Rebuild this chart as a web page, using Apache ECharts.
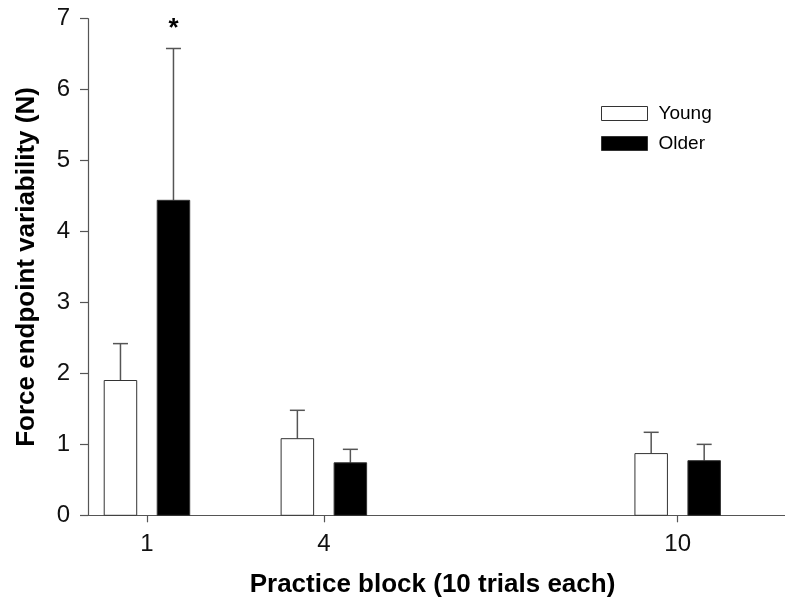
<!DOCTYPE html>
<html>
<head>
<meta charset="utf-8">
<script src="https://cdn.jsdelivr.net/npm/echarts@6/dist/echarts.min.js"></script>
<style>
  html, body { margin: 0; padding: 0; background: #fff; }
  #chart { width: 785px; height: 600px; }
</style>
</head>
<body>
<div id="chart"></div>
<script>
// Practice blocks shown on the x axis
const blocks = [1, 4, 10];
// Mean force endpoint variability (N) and upper error (SE) per block
const youngMean = [1.90, 1.08, 0.87];
const youngErr  = [0.52, 0.40, 0.30];
const olderMean = [4.44, 0.74, 0.77];
const olderErr  = [2.14, 0.19, 0.23];
// Significance markers per block (older vs young)
const sigMarks = ['*', '', ''];
const yTicks = [0, 1, 2, 3, 4, 5, 6, 7];

const FONT = 'Liberation Sans, Arial, Helvetica, sans-serif';
const BAR_W = 32.5;
const BAR_SHIFT = 26.5;

function makeRenderer(shift, fill) {
  return function (params, api) {
    const block = api.value(0);
    const mean = api.value(1);
    const err = api.value(2);
    const base = api.coord([block, 0]);
    const top = api.coord([block, mean]);
    const cap = api.coord([block, mean + err]);
    const cx = base[0] + shift;
    const children = [
      { type: 'line', shape: { x1: cx, y1: top[1], x2: cx, y2: cap[1] },
        style: { stroke: '#555', lineWidth: 1.5 } },
      { type: 'line', shape: { x1: cx - 7.5, y1: cap[1], x2: cx + 7.5, y2: cap[1] },
        style: { stroke: '#555', lineWidth: 1.5 } },
      { type: 'rect', shape: { x: cx - BAR_W / 2, y: top[1], width: BAR_W, height: base[1] - top[1] },
        style: { fill: fill, stroke: '#333', lineWidth: 1 } }
    ];
    const mark = api.value(3);
    if (mark) {
      children.push({ type: 'text', x: cx, y: cap[1] - 20,
        style: { text: mark, font: 'bold 26px ' + FONT, fill: '#000', align: 'center', verticalAlign: 'middle' } });
    }
    return { type: 'group', children: children };
  };
}

const youngData = blocks.map((b, i) => [b, youngMean[i], youngErr[i], '']);
const olderData = blocks.map((b, i) => [b, olderMean[i], olderErr[i], sigMarks[i]]);

const chart = echarts.init(document.getElementById('chart'), null, { renderer: 'canvas' });
chart.setOption({
  backgroundColor: '#fff',
  animation: false,
  grid: { left: 88, right: 0, top: 18.7, bottom: 84.7, containLabel: false, outerBoundsMode: 'none' },
  legend: {
    orient: 'vertical', left: 601, top: 104, itemWidth: 46, itemHeight: 14, itemGap: 11,
    padding: 0, selectedMode: false,
    textStyle: { fontFamily: FONT, fontSize: 19, color: '#000', padding: [0, 0, 0, 6] },
    data: [
      { name: 'Young', icon: 'rect', itemStyle: { color: '#fff', borderColor: '#333', borderWidth: 1 } },
      { name: 'Older', icon: 'rect', itemStyle: { color: '#000', borderColor: '#333', borderWidth: 1 } }
    ]
  },
  xAxis: {
    type: 'value', min: 0, max: 11.82,
    name: 'Practice block (10 trials each)', nameLocation: 'middle', nameGap: 57,
    nameTextStyle: { fontFamily: FONT, fontSize: 26, fontWeight: 'bold', color: '#000', padding: [0, 8, 0, 0] },
    axisLine: { show: true, onZero: false, lineStyle: { color: '#555', width: 1.2 } },
    axisTick: { show: true, inside: false, length: 7, customValues: blocks, lineStyle: { color: '#555', width: 1.2 } },
    axisLabel: { customValues: blocks, fontFamily: FONT, fontSize: 24, color: '#111', margin: 17 },
    splitLine: { show: false }
  },
  yAxis: {
    type: 'value', min: 0, max: 7, interval: 1,
    name: 'Force endpoint variability (N)', nameLocation: 'middle', nameGap: 48, nameRotate: 90,
    nameTextStyle: { fontFamily: FONT, fontSize: 26, fontWeight: 'bold', color: '#000' },
    axisLine: { show: true, lineStyle: { color: '#555', width: 1.2 } },
    axisTick: { show: true, inside: false, length: 8, lineStyle: { color: '#555', width: 1.2 } },
    axisLabel: { fontFamily: FONT, fontSize: 24, color: '#111', margin: 18,
      formatter: v => (yTicks.indexOf(v) >= 0 ? String(v) : '') },
    splitLine: { show: false }
  },
  series: [
    { name: 'Young', type: 'custom', renderItem: makeRenderer(-BAR_SHIFT, '#fff'),
      itemStyle: { color: '#fff', borderColor: '#333', borderWidth: 1 },
      encode: { x: 0, y: 1 }, data: youngData },
    { name: 'Older', type: 'custom', renderItem: makeRenderer(BAR_SHIFT, '#000'),
      itemStyle: { color: '#000', borderColor: '#333', borderWidth: 1 },
      encode: { x: 0, y: 1 }, data: olderData }
  ]
});
</script>
</body>
</html>
